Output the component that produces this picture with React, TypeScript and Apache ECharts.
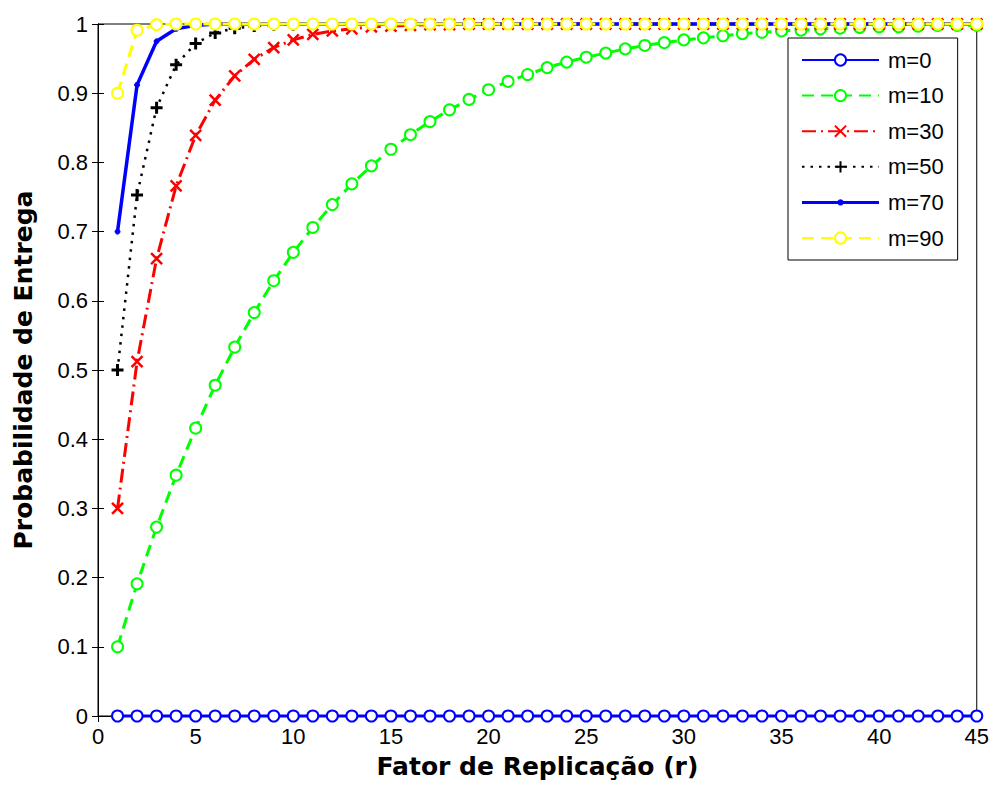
import React, { useEffect, useRef } from "react";
import * as echarts from "echarts";

const replicationFactors = [
  1, 2, 3, 4, 5, 6, 7, 8, 9, 10, 11, 12, 13, 14, 15, 16, 17, 18, 19, 20, 21, 22, 23,
  24, 25, 26, 27, 28, 29, 30, 31, 32, 33, 34, 35, 36, 37, 38, 39, 40, 41, 42, 43, 44, 45,
];

const seriesNames = ["m=0", "m=10", "m=30", "m=50", "m=70", "m=90"];

const m0 = [
  0, 0, 0, 0, 0, 0, 0, 0, 0, 0, 0, 0, 0, 0, 0, 0, 0, 0, 0, 0, 0, 0, 0,
  0, 0, 0, 0, 0, 0, 0, 0, 0, 0, 0, 0, 0, 0, 0, 0, 0, 0, 0, 0, 0, 0,
];
const m10 = [
  0.1, 0.191, 0.273, 0.348, 0.416, 0.478, 0.533, 0.583, 0.629, 0.67, 0.706, 0.739,
  0.769, 0.795, 0.819, 0.84, 0.859, 0.876, 0.891, 0.905, 0.917, 0.927, 0.937, 0.945,
  0.952, 0.958, 0.964, 0.969, 0.973, 0.977, 0.98, 0.983, 0.986, 0.988, 0.99, 0.991,
  0.993, 0.994, 0.995, 0.996, 0.996, 0.997, 0.998, 0.998, 0.998,
];
const m30 = [
  0.3, 0.512, 0.661, 0.766, 0.839, 0.89, 0.925, 0.949, 0.966, 0.977, 0.985, 0.99,
  0.993, 0.996, 0.997, 0.998, 0.999, 0.999, 1, 1, 1, 1, 1, 1, 1, 1, 1, 1, 1, 1, 1, 1,
  1, 1, 1, 1, 1, 1, 1, 1, 1, 1, 1, 1, 1,
];
const m50 = [
  0.5, 0.753, 0.879, 0.941, 0.972, 0.987, 0.994, 0.997, 0.999, 0.999, 1, 1, 1, 1, 1,
  1, 1, 1, 1, 1, 1, 1, 1, 1, 1, 1, 1, 1, 1, 1, 1, 1, 1, 1, 1, 1, 1, 1, 1, 1, 1, 1, 1,
  1, 1,
];
const m70 = [
  0.7, 0.912, 0.975, 0.993, 0.998, 1, 1, 1, 1, 1, 1, 1, 1, 1, 1, 1, 1, 1, 1, 1, 1, 1,
  1, 1, 1, 1, 1, 1, 1, 1, 1, 1, 1, 1, 1, 1, 1, 1, 1, 1, 1, 1, 1, 1, 1,
];
const m90 = [
  0.9, 0.991, 0.999, 1, 1, 1, 1, 1, 1, 1, 1, 1, 1, 1, 1, 1, 1, 1, 1, 1, 1, 1, 1, 1, 1,
  1, 1, 1, 1, 1, 1, 1, 1, 1, 1, 1, 1, 1, 1, 1, 1, 1, 1, 1, 1,
];

const xAxisTitle = "Fator de Replicação (r)";
const yAxisTitle = "Probabilidade de Entrega";

const X_MARK = "path://M0,0L10,10M10,0L0,10";
const PLUS_MARK = "path://M5,0L5,10M0,5L10,5";
// legend icon for the point-marker series: a line with a small dot in the middle
// (tiny corner sub-paths keep the icon's bounding box at 77 x 14)
const LINE_DOT_ICON =
  "path://M0,0L0.01,0L0,0.01Z M76.99,14L77,14L77,13.99Z M0,5.5L77,5.5L77,8.5L0,8.5Z M38.5,3.8A3.2,3.2 0 1,1 38.49,3.8Z";

export default function App() {
  const ref = useRef<HTMLDivElement>(null);

  useEffect(() => {
    if (!ref.current) return;
    const chart = echarts.init(ref.current, null, { renderer: "svg" });
    const pairs = (vals: number[]) => replicationFactors.map((r, i) => [r, vals[i]]);

    const mk = (
      name: string,
      vals: number[],
      color: string,
      lineType: any,
      symbol: string,
      symbolSize: number,
      lineWidth: number,
      markWidth: number
    ) => ({
      name,
      type: "line",
      data: pairs(vals),
      clip: false,
      symbol,
      symbolSize,
      showSymbol: true,
      lineStyle: { color, width: lineWidth, type: lineType },
      itemStyle: { color, borderColor: color, borderWidth: markWidth },
      emphasis: { disabled: true },
    });

    const series = [
      mk(seriesNames[0], m0, "#0000ff", "solid", "emptyCircle", 11, 3, 2.8),
      mk(seriesNames[1], m10, "#00ff00", [12, 7], "emptyCircle", 11, 3, 2.5),
      mk(seriesNames[2], m30, "#ff0000", [14, 5, 2, 5], X_MARK, 11, 3, 2.5),
      mk(seriesNames[3], m50, "#000000", [2.5, 6], PLUS_MARK, 12, 2.5, 3),
      mk(seriesNames[4], m70, "#0000ff", "solid", "circle", 5, 3.5, 1),
      mk(seriesNames[5], m90, "#ffff00", [12, 7], "emptyCircle", 11, 3, 2.5),
    ];

    const tickFont = { fontFamily: "Liberation Sans", fontSize: 22, color: "#000" };
    const nameFont = {
      fontFamily: "DejaVu Sans",
      fontSize: 25,
      fontWeight: "bold" as const,
      color: "#000",
    };

    const legendData = seriesNames.map((n, i) =>
      i === 4
        ? {
            name: n,
            icon: LINE_DOT_ICON,
            itemStyle: { color: "#0000ff", borderColor: "rgba(0,0,0,0)", borderWidth: 0 },
            lineStyle: { width: 0, color: "rgba(0,0,0,0)" },
          }
        : { name: n }
    );

    chart.setOption({
      animation: false,
      backgroundColor: "#fff",
      grid: {
        left: 98,
        right: 13,
        top: 24,
        bottom: 71,
        show: true,
        borderColor: "#000",
        borderWidth: 1,
        backgroundColor: "#fff",
      },
      legend: {
        data: legendData,
        orient: "vertical",
        left: 788,
        top: 38,
        itemWidth: 77,
        itemHeight: 14,
        itemGap: 13.6,
        padding: [11, 14, 11, 13],
        borderColor: "#000",
        borderWidth: 1,
        backgroundColor: "#fff",
        selectedMode: false,
        symbolKeepAspect: false,
        textStyle: { ...tickFont, padding: [0, 0, 0, 4] },
      },
      xAxis: [
        {
          type: "value",
          min: 0,
          max: 45,
          interval: 5,
          position: "bottom",
          name: xAxisTitle,
          nameLocation: "middle",
          nameGap: 38,
          nameTextStyle: nameFont,
          axisLine: { show: true, lineStyle: { color: "#000", width: 1 } },
          axisTick: { show: true, inside: true, length: 6, lineStyle: { color: "#000" } },
          axisLabel: { ...tickFont, margin: 9 },
          splitLine: { show: false },
        },
        {
          type: "value",
          min: 0,
          max: 45,
          interval: 5,
          position: "top",
          axisLine: { show: true, lineStyle: { color: "#000", width: 1 } },
          axisTick: { show: true, inside: true, length: 6, lineStyle: { color: "#000" } },
          axisLabel: { show: false },
          splitLine: { show: false },
        },
      ],
      yAxis: [
        {
          type: "value",
          min: 0,
          max: 1,
          interval: 0.1,
          position: "left",
          name: yAxisTitle,
          nameLocation: "middle",
          nameGap: 62,
          nameTextStyle: nameFont,
          axisLine: { show: true, lineStyle: { color: "#000", width: 1 } },
          axisTick: { show: true, inside: true, length: 6, lineStyle: { color: "#000" } },
          axisLabel: {
            ...tickFont,
            margin: 10,
            formatter: (v: number) => String(Math.round(v * 10) / 10),
          },
          splitLine: { show: false },
        },
        {
          type: "value",
          min: 0,
          max: 1,
          interval: 0.1,
          position: "right",
          axisLine: { show: true, lineStyle: { color: "#000", width: 1 } },
          axisTick: { show: true, inside: true, length: 6, lineStyle: { color: "#000" } },
          axisLabel: { show: false },
          splitLine: { show: false },
        },
      ],
      series,
    });

    return () => chart.dispose();
  }, []);

  return <div ref={ref} style={{ width: 992, height: 787, position: "absolute", left: 0, top: 0 }} />;
}
